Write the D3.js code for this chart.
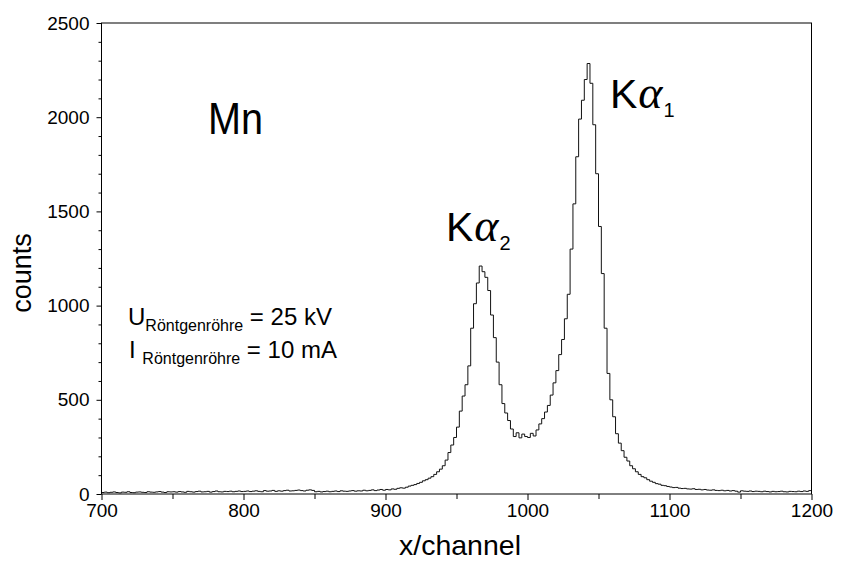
<!DOCTYPE html>
<html><head><meta charset="utf-8">
<script src="https://cdn.jsdelivr.net/npm/d3@7"></script>
<style>
body{margin:0;background:#fff}
svg{display:block}
text{font-family:"Liberation Sans",Arial,Helvetica,sans-serif;fill:#000}
</style>
</head><body>
<svg id="chart" width="841" height="567"></svg>
<script>
// ---- data ----
const xTicks = [700, 800, 900, 1000, 1100, 1200];
const xMinorTicks = [750, 850, 950, 1050, 1150];
const yTicks = [0, 500, 1000, 1500, 2000, 2500];
const yMinorTicks = [100,200,300,400,600,700,800,900,1100,1200,1300,1400,1600,1700,1800,1900,2100,2200,2300,2400];
const binStart = 700, binWidth = 2, binEnd = 1200;
const channels = d3.range(binStart, binEnd, binWidth);
const counts = [
  // 700-748
  8,10,7,9,11,8,6,10,9,12,8,7,10,11,9,8,12,10,9,11,13,10,8,12,11,
  // 750-798
  12,10,13,11,9,14,12,10,13,15,11,12,14,10,13,16,12,11,14,13,15,12,14,16,13,
  // 800-848
  14,16,13,15,17,14,12,18,15,16,19,14,17,15,18,20,16,17,19,21,18,16,20,22,19,
  // 850-898
  12,14,11,13,15,12,14,16,13,17,15,14,16,18,15,17,16,20,17,19,22,18,21,24,20,
  // 900-938
  24,22,27,25,30,33,31,36,42,46,50,56,62,70,76,84,92,104,118,132,
  // 940-998
  150,180,220,260,300,355,440,520,580,680,880,1010,1120,1210,1180,1150,1080,950,830,700,
  580,480,430,390,345,305,325,298,318,305,
  // 1000-1058
  300,322,308,340,372,400,435,470,525,590,655,740,820,930,1060,1300,1540,1790,1990,2090,
  2200,2285,2180,1960,1700,1420,1170,880,640,500,
  // 1060-1118
  410,320,270,230,195,175,150,134,118,104,92,86,76,68,62,55,52,46,44,40,
  37,34,35,31,29,30,27,26,28,24,
  // 1120-1178
  25,22,24,21,20,22,19,18,20,17,19,16,18,15,10,17,15,14,16,13,
  15,14,12,15,13,11,14,12,13,15,
  // 1180-1198
  12,11,14,13,12,15,13,16,14,18
];

// ---- chart ----
const svg = d3.select("#chart");
const mLeft = 101.5, mRight = 811.5, mTop = 23, mBottom = 494;
const x = d3.scaleLinear().domain([700, 1200]).range([mLeft, mRight]);
const y = d3.scaleLinear().domain([0, 2500]).range([mBottom, mTop]);

const pts = channels.map((c, i) => [c, counts[i]]);
pts.push([binEnd, counts[counts.length - 1]]);

svg.append("path")
  .datum(pts)
  .attr("fill", "none")
  .attr("stroke", "#111")
  .attr("stroke-width", 1)
  .attr("d", d3.line().x(d => x(d[0])).y(d => y(d[1])).curve(d3.curveStepAfter));

// frame
svg.append("rect").attr("x", mLeft).attr("y", mTop)
  .attr("width", mRight - mLeft).attr("height", mBottom - mTop)
  .attr("fill", "none").attr("stroke", "#000").attr("stroke-width", 1);

// axes
const fmt = d3.format("d");
const gx = svg.append("g").attr("transform", `translate(0,${mBottom})`)
  .call(d3.axisBottom(x).tickValues(xTicks).tickFormat(fmt).tickSize(6).tickPadding(4).tickSizeOuter(0));
const gxm = svg.append("g").attr("transform", `translate(0,${mBottom})`)
  .call(d3.axisBottom(x).tickValues(xMinorTicks).tickSize(5).tickFormat("").tickSizeOuter(0));
const gy = svg.append("g").attr("transform", `translate(${mLeft},0)`)
  .call(d3.axisLeft(y).tickValues(yTicks).tickFormat(fmt).tickSize(5).tickPadding(7).tickSizeOuter(0));
const gym = svg.append("g").attr("transform", `translate(${mLeft},0)`)
  .call(d3.axisLeft(y).tickValues(yMinorTicks).tickSize(3).tickFormat("").tickSizeOuter(0));
[gx, gxm, gy, gym].forEach(g => {
  g.select(".domain").remove();
  g.selectAll(".tick line").attr("stroke", "#000");
  g.selectAll("text").attr("font-size", 19).attr("font-family", "Liberation Sans, Arial, sans-serif").attr("fill", "#000");
});

// axis titles
svg.append("text").attr("x", 460).attr("y", 555)
  .attr("text-anchor", "middle").attr("font-size", 28.5).text("x/channel");
svg.append("text").attr("transform", "translate(31,273) rotate(-90)")
  .attr("text-anchor", "middle").attr("font-size", 27).text("counts");

// annotations
svg.append("text").attr("x", 208).attr("y", 134).attr("font-size", 45)
  .attr("textLength", 55).attr("lengthAdjust", "spacingAndGlyphs").text("Mn");

function kAlpha(xp, yp, sub) {
  const t = svg.append("text").attr("x", xp).attr("y", yp).attr("font-size", 41);
  t.append("tspan").text("K");
  t.append("tspan").attr("font-family", "Liberation Serif, serif").attr("font-style", "italic")
    .attr("font-size", 46).attr("dx", 1).text("α");
  t.append("tspan").attr("font-size", 20).attr("dx", 1).attr("dy", 9).text(sub);
}
kAlpha(446, 241, "2");
kAlpha(610, 108, "1");

function param(xp, yp, main, val) {
  const t = svg.append("text").attr("x", xp).attr("y", yp).attr("font-size", 24);
  t.append("tspan").text(main);
  t.append("tspan").attr("font-size", 16).attr("dy", 6).text("Röntgenröhre");
  t.append("tspan").attr("dy", -6).text(" " + val);
}
param(128, 325, "U", "= 25 kV");
param(129, 358, "I ", "= 10 mA");
</script>
</body></html>
